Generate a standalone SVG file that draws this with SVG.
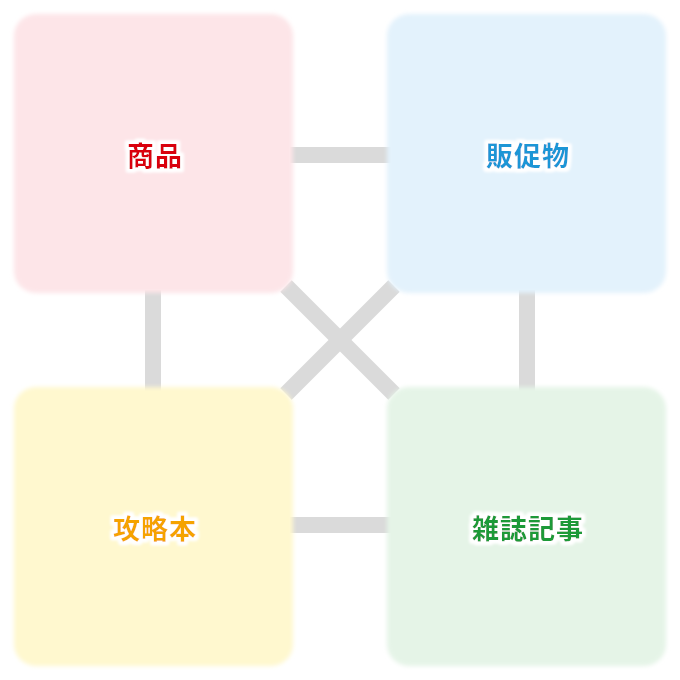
<svg xmlns="http://www.w3.org/2000/svg" width="680" height="680" viewBox="0 0 680 680">
<defs>
<filter id="soft" x="-5%" y="-5%" width="110%" height="110%"><feGaussianBlur stdDeviation="2"/></filter>
<filter id="halo" x="-20%" y="-40%" width="140%" height="180%">
<feMorphology in="SourceAlpha" operator="dilate" radius="2.5" result="d"/>
<feGaussianBlur in="d" stdDeviation="1.5" result="b"/>
<feFlood flood-color="#ffffff"/>
<feComposite in2="b" operator="in" result="w"/>
<feMerge><feMergeNode in="w"/><feMergeNode in="w"/><feMergeNode in="SourceGraphic"/></feMerge>
</filter>
</defs>
<style>
.lbl{font-family:"Noto Sans CJK JP","Noto Sans CJK SC",sans-serif;font-weight:700;font-size:27px;text-anchor:middle;dominant-baseline:central;letter-spacing:1px}
.ln{stroke:#dadada;stroke-width:16;fill:none}
</style>
<rect width="680" height="680" fill="#ffffff"/>
<g id="connectors">
<line class="ln" x1="290" y1="155" x2="391" y2="155"/>
<line class="ln" x1="290" y1="525" x2="391" y2="525"/>
<line class="ln" x1="153" y1="290" x2="153" y2="391"/>
<line class="ln" x1="527" y1="290" x2="527" y2="391"/>
<line class="ln" stroke-width="14" x1="286" y1="286" x2="394" y2="394"/>
<line class="ln" stroke-width="14" x1="394" y1="286" x2="286" y2="394"/>
</g>
<g id="node-shohin">
<rect x="14" y="14" width="279" height="279" rx="22" fill="#fde5e8" filter="url(#soft)"/>
<text class="lbl" x="155" y="154" fill="#d9000f" filter="url(#halo)">商品</text>
</g>
<g id="node-hansokubutsu">
<rect x="387" y="14" width="279" height="279" rx="22" fill="#e3f2fc" filter="url(#soft)"/>
<text class="lbl" x="528" y="154" fill="#1a96d6" filter="url(#halo)">販促物</text>
</g>
<g id="node-kouryakubon">
<rect x="14" y="387" width="279" height="279" rx="22" fill="#fff8cf" filter="url(#soft)"/>
<text class="lbl" x="155" y="527" fill="#f5a300" filter="url(#halo)">攻略本</text>
</g>
<g id="node-zasshikiji">
<rect x="387" y="387" width="279" height="279" rx="22" fill="#e5f4e7" filter="url(#soft)"/>
<text class="lbl" x="528" y="527" fill="#1f9a37" filter="url(#halo)">雑誌記事</text>
</g>
</svg>
